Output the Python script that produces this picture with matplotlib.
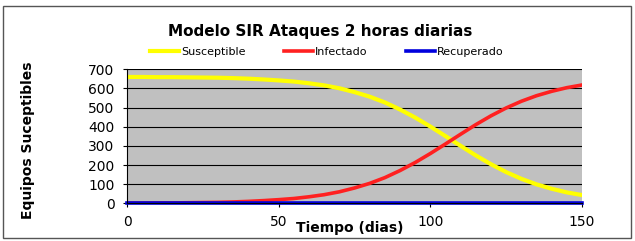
import matplotlib
matplotlib.use("Agg")
import matplotlib.pyplot as plt
from matplotlib.patches import Rectangle

# días
dias = [0, 5, 10, 15, 20, 25, 30, 35, 40, 45, 50, 55, 60, 65, 70, 75,
        80, 85, 90, 95, 100, 105, 110, 115, 120, 125, 130, 135, 140, 145, 150]

susceptible = [660, 660, 659, 659, 658, 657, 656, 654, 651, 647, 642, 636, 627,
               616, 601, 581, 557, 527, 490, 448, 401, 351, 300, 250, 204, 163,
               128, 99, 76, 57, 43]
infectado = [1, 1, 2, 2, 3, 4, 5, 7, 10, 14, 19, 25, 34, 45, 60, 80, 104, 134,
             171, 213, 260, 310, 361, 411, 457, 498, 533, 562, 585, 604, 618]
recuperado = [0] * len(dias)

fig = plt.figure(figsize=(6.35, 2.41), dpi=100)
fig.patches.append(Rectangle((2.5 / 635, 3 / 241), 628.5 / 635, 232 / 241,
                             transform=fig.transFigure, fill=False,
                             edgecolor="#555555", linewidth=1))

ax = fig.add_axes([127 / 635, 37.7 / 241, 455 / 635, 134 / 241])
ax.set_facecolor("#c0c0c0")

ax.plot(dias, susceptible, color="#ffff00", linewidth=3.0, label="Susceptible")
ax.plot(dias, infectado, color="#ff2020", linewidth=2.6, label="Infectado")
ax.plot(dias, recuperado, color="#0000dd", linewidth=2.6, label="Recuperado",
        clip_on=False)

ax.set_xlim(0, 150)
ax.set_ylim(0, 700)
ax.set_xticks([0, 50, 100, 150])
ax.set_yticks(range(0, 701, 100))
ax.yaxis.grid(True, color="black", linewidth=0.8)
ax.set_axisbelow(True)
for s in ["top", "right"]:
    ax.spines[s].set_visible(False)
ax.tick_params(labelsize=10, length=3)
ax.tick_params(axis="y", pad=6)
ax.tick_params(axis="x", pad=5.5)

ax.set_xlabel("Tiempo (dias)", fontsize=10, fontweight="bold", va="center")
ax.xaxis.set_label_coords(0.49, -0.185)
ax.set_ylabel("Equipos Suceptibles", fontsize=10, fontweight="bold", va="center")
ax.yaxis.set_label_coords(-0.218, 0.47)

fig.text(0.505, 0.868, "Modelo SIR Ataques 2 horas diarias", ha="center",
         va="center", fontsize=11, fontweight="bold")
fig.legend(loc="center", bbox_to_anchor=(0.515, 0.785), ncol=3, frameon=False,
           fontsize=8, handlelength=2.6, handletextpad=0.15, columnspacing=3.5,
           borderaxespad=0)

fig.savefig("out.png", dpi=100)
